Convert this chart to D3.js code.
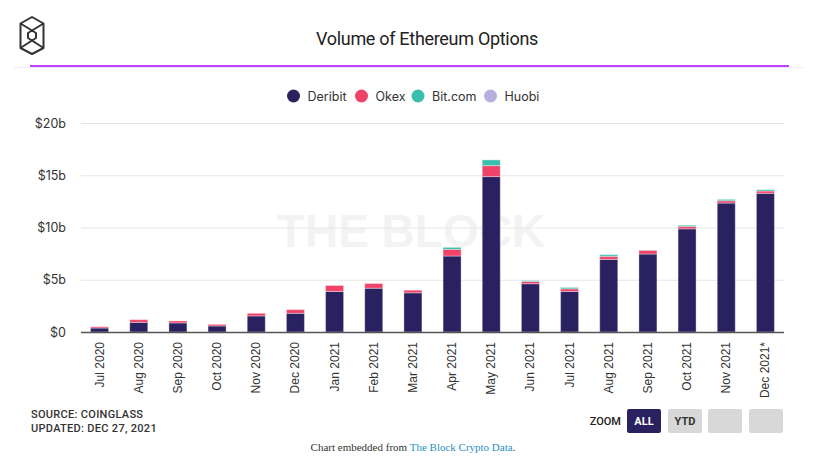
<!DOCTYPE html>
<html>
<head>
<meta charset="utf-8">
<script src="https://cdn.jsdelivr.net/npm/d3@7/dist/d3.min.js"></script>
<style>
  html, body { margin: 0; padding: 0; background: #fff; }
  svg { display: block; }
</style>
</head>
<body>
<svg id="chart" width="817" height="471"></svg>
<script>
const months = ["Jul 2020","Aug 2020","Sep 2020","Oct 2020","Nov 2020","Dec 2020","Jan 2021","Feb 2021","Mar 2021","Apr 2021","May 2021","Jun 2021","Jul 2021","Aug 2021","Sep 2021","Oct 2021","Nov 2021","Dec 2021*"];
const deribit = [0.38,0.92,0.87,0.58,1.54,1.79,3.88,4.19,3.75,7.27,14.87,4.62,3.88,6.95,7.46,9.87,12.34,13.27];
const okex    = [0.12,0.26,0.19,0.15,0.25,0.35,0.57,0.45,0.25,0.64,1.05,0.22,0.25,0.29,0.36,0.23,0.22,0.22];
const bitcom  = [0,0,0,0,0,0,0,0,0,0.19,0.55,0.09,0.13,0.16,0.02,0.12,0.13,0.13];
const huobi   = [0,0,0,0,0,0,0,0,0,0,0,0,0,0,0,0,0,0];
const seriesNames = ["Deribit","Okex","Bit.com","Huobi"];
const seriesColors = ["#2a2160","#f0436a","#3bbfad","#b9aee0"];
const yTicks = [0,5,10,15,20];
const yTickLabels = ["$0","$5b","$10b","$15b","$20b"];

const svg = d3.select("#chart");

// Logo
const logo = svg.append("g").attr("fill","none").attr("stroke","#333").attr("stroke-width",2).attr("stroke-linejoin","round");
const cx = 32;
const outer = [[cx,17],[43.5,23.5],[43.5,48],[cx,54],[20.5,48],[20.5,23.5]];
logo.append("path").attr("d", d3.line()(outer) + "Z");
const inner = [[cx,30.5],[36,33],[36,38],[cx,40.5],[28,38],[28,33]];
logo.append("path").attr("d", d3.line()(inner) + "Z");
logo.append("path").attr("d", d3.line()([[20.5,23.5],[cx,30.5],[43.5,23.5]]));
logo.append("path").attr("d", d3.line()([[20.5,48],[cx,40.5],[43.5,48]]));

// Title
svg.append("text").attr("x",427).attr("y",45).attr("text-anchor","middle")
  .attr("font-family","Roboto, 'Noto Sans', sans-serif").attr("font-size",18)
  .attr("letter-spacing","-0.3").attr("fill","#222").text("Volume of Ethereum Options");
svg.append("line").attr("x1",14).attr("x2",803).attr("y1",67.5).attr("y2",67.5).attr("stroke","#f0e6fb").attr("stroke-width",1);
svg.append("line").attr("x1",30).attr("x2",789).attr("y1",66).attr("y2",66).attr("stroke","#a400ff").attr("stroke-width",1.5);

// Legend
const legendX = [293.5, 361.5, 418, 490.5];
const lg = svg.append("g");
seriesNames.forEach((n,i)=>{
  lg.append("circle").attr("cx",legendX[i]).attr("cy",96).attr("r",6.5).attr("fill",seriesColors[i]);
  lg.append("text").attr("x",legendX[i]+14).attr("y",100.5).attr("font-family","Inter, 'Noto Sans', sans-serif")
    .attr("font-size",12.5).attr("fill","#333").text(n);
});

// Scales
const x = d3.scaleBand().domain(months).range([80,785]).paddingInner(0.54).paddingOuter(0.27);
const y = d3.scaleLinear().domain([0,20]).range([332,123]);

// Watermark
svg.append("text").attr("x",411).attr("y",247).attr("text-anchor","middle")
  .attr("font-family","'Liberation Sans', Arial, sans-serif").attr("font-weight","bold")
  .attr("font-size",46).attr("fill","#f3f3f3").text("THE BLOCK");

// Gridlines
svg.append("g").selectAll("line").data(yTicks.filter(d=>d>0)).join("line")
  .attr("x1",81).attr("x2",784).attr("y1",d=>y(d)+0.5).attr("y2",d=>y(d)+0.5)
  .attr("stroke","#e6e6e6").attr("stroke-width",1);

// Y labels
svg.append("g").selectAll("text").data(yTicks).join("text")
  .attr("x",66).attr("y",d=>y(d)+4.5).attr("text-anchor","end")
  .attr("font-family","Inter, 'Noto Sans', sans-serif").attr("font-size",12.5).attr("fill","#333")
  .text((d,i)=>yTickLabels[i]);

// Stacked bars
const table = months.map((m,i)=>({month:m, Deribit:deribit[i], Okex:okex[i], "Bit.com":bitcom[i], Huobi:huobi[i]}));
const stack = d3.stack().keys(seriesNames)(table);
const bars = svg.append("g");
stack.forEach((layer,li)=>{
  bars.append("g").attr("fill",seriesColors[li]).selectAll("rect").data(layer.filter(d=>d[1]-d[0]>0)).join("rect")
    .attr("x",d=>x(d.data.month)).attr("width",x.bandwidth())
    .attr("y",d=>y(d[1])).attr("height",d=>y(d[0])-y(d[1]))
    .attr("stroke","rgba(255,255,255,0.35)").attr("stroke-width",1);
});

// X axis line
svg.append("line").attr("x1",81).attr("x2",784).attr("y1",332.5).attr("y2",332.5).attr("stroke","#555").attr("stroke-width",1.5);

// X labels
svg.append("g").selectAll("text").data(months).join("text")
  .attr("transform",d=>`translate(${x(d)+x.bandwidth()/2+4},342) rotate(-90)`)
  .attr("text-anchor","end").attr("font-family","'Liberation Sans', Arial, sans-serif")
  .attr("font-size",12).attr("fill","#333").text(d=>d);

// Footer
const ff = "Roboto, 'Noto Sans', sans-serif";
svg.append("text").attr("x",31).attr("y",418).attr("font-family",ff).attr("font-weight","500").attr("font-size",11).attr("letter-spacing","0.3").attr("fill","#333").text("SOURCE: COINGLASS");
svg.append("text").attr("x",31).attr("y",432).attr("font-family",ff).attr("font-weight","500").attr("font-size",11).attr("letter-spacing","0.3").attr("fill","#333").text("UPDATED: DEC 27, 2021");

svg.append("text").attr("x",621).attr("y",425).attr("text-anchor","end").attr("font-family",ff).attr("font-weight","500").attr("font-size",11).attr("fill","#222").text("ZOOM");
const btns = [{x:627,label:"ALL",fill:"#2a2160",color:"#fff"},{x:668,label:"YTD",fill:"#d8d8d8",color:"#333"},{x:708,label:"",fill:"#d8d8d8",color:"#333"},{x:749,label:"",fill:"#d8d8d8",color:"#333"}];
btns.forEach(b=>{
  svg.append("rect").attr("x",b.x).attr("y",409).attr("width",34).attr("height",24).attr("rx",2).attr("fill",b.fill);
  if (b.label) svg.append("text").attr("x",b.x+17).attr("y",425).attr("text-anchor","middle").attr("font-family",ff).attr("font-weight","bold").attr("font-size",11).attr("fill",b.color).text(b.label);
});

const cap = svg.append("text").attr("x",413).attr("y",451).attr("text-anchor","middle")
  .attr("font-family","'Liberation Serif', 'Times New Roman', serif").attr("font-size",11).attr("fill","#333");
cap.append("tspan").text("Chart embedded from ");
cap.append("tspan").attr("fill","#2a8fc6").text("The Block Crypto Data");
cap.append("tspan").text(".");
</script>
</body>
</html>
